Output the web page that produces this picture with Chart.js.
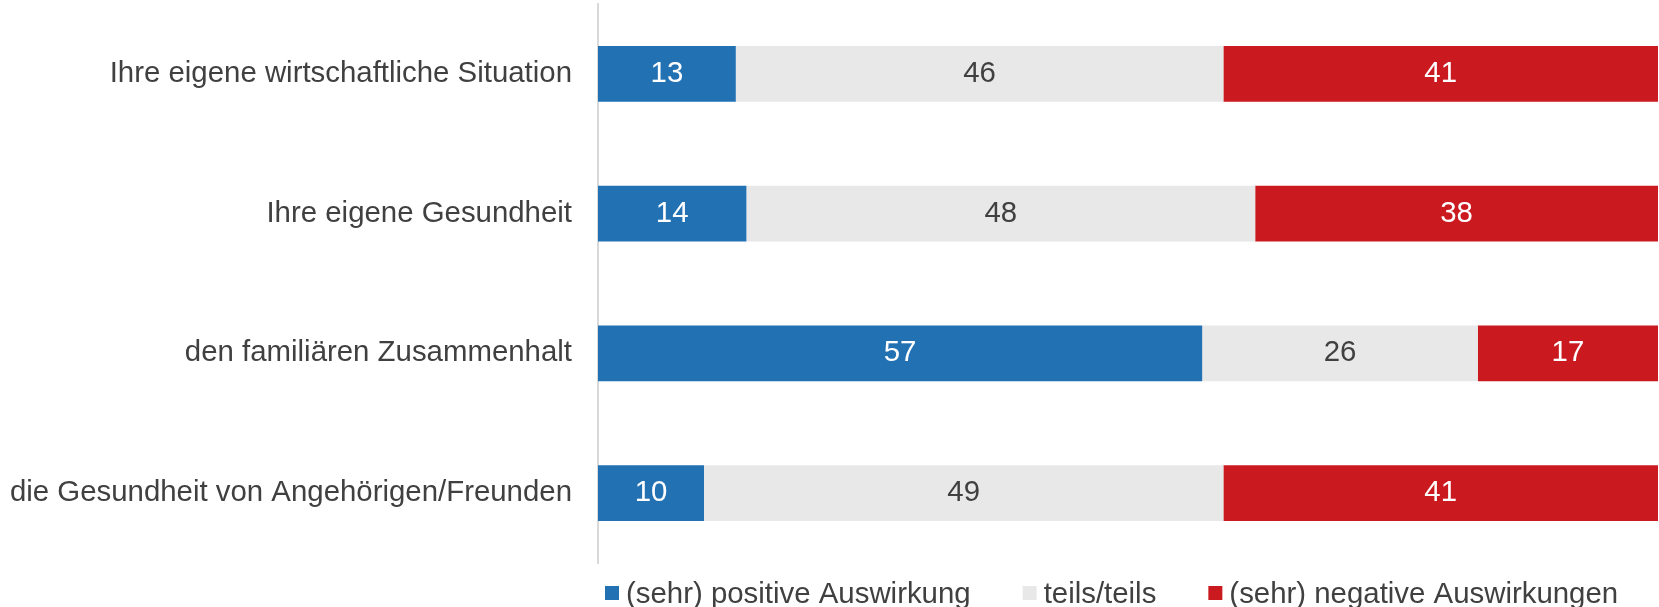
<!DOCTYPE html>
<html>
<head>
<meta charset="utf-8">
<script src="https://cdn.jsdelivr.net/npm/chart.js@4/dist/chart.umd.min.js"></script>
<style>
html, body { margin: 0; padding: 0; background: #fff; }
canvas { display: block; }
</style>
</head>
<body>
<canvas id="chart" width="1659" height="607"></canvas>
<script>
const categories =
[
    "Ihre eigene wirtschaftliche Situation",
    "Ihre eigene Gesundheit",
    "den familiären Zusammenhalt",
    "die Gesundheit von Angehörigen/Freunden"
];

const positiveValues = [13, 14, 57, 10];
const neutralValues = [46, 48, 26, 49];
const negativeValues = [41, 38, 17, 41];

const seriesNames =
[
    "(sehr) positive Auswirkung",
    "teils/teils",
    "(sehr) negative Auswirkungen"
];

const seriesColors = ["#2271b3", "#e8e8e8", "#cb1a1f"];
const labelColors = ["#ffffff", "#404040", "#ffffff"];

const TEXT_COLOR = "#404040";
const FONT_FAMILY = "\"Liberation Sans\", Arial, sans-serif";
const FONT_SIZE = 29.4;

function createDataset(label, values, index)
{
    return {
        label: label,
        data: values,
        backgroundColor: seriesColors[index],
        borderWidth: 0,
        barPercentage: 0.4,
        categoryPercentage: 1.0
    };
}

// value in the middle of each bar segment
const valueLabels =
{
    id: "valueLabels",
    afterDatasetsDraw(chart)
    {
        const ctx = chart.ctx;

        ctx.save();
        ctx.font = FONT_SIZE + "px " + FONT_FAMILY;
        ctx.textAlign = "center";
        ctx.textBaseline = "middle";

        chart.data.datasets.forEach((dataset, di) =>
        {
            const meta = chart.getDatasetMeta(di);

            meta.data.forEach((bar, i) =>
            {
                const props = bar.getProps(["x", "y", "base"], true);
                ctx.fillStyle = labelColors[di];
                ctx.fillText(String(dataset.data[i]), (props.x + props.base) / 2, props.y);
            });
        });

        ctx.restore();
    }
};

// legend below the plot, starting at the axis
const bottomLegend =
{
    id: "bottomLegend",
    afterDraw(chart)
    {
        const ctx = chart.ctx;
        const boxSize = 14;
        const centerY = chart.height - 14;
        let x = chart.chartArea.left + 7;

        ctx.save();
        ctx.font = FONT_SIZE + "px " + FONT_FAMILY;
        ctx.textAlign = "left";
        ctx.textBaseline = "alphabetic";

        seriesNames.forEach((name, i) =>
        {
            ctx.fillStyle = seriesColors[i];
            ctx.fillRect(x, centerY - boxSize / 2, boxSize, boxSize);
            x += boxSize + 7;

            ctx.fillStyle = TEXT_COLOR;
            ctx.fillText(name, x, centerY + 10);
            x += ctx.measureText(name).width + 52;
        });

        ctx.restore();
    }
};

new Chart(document.getElementById("chart").getContext("2d"),
{
    type: "bar",
    data:
    {
        labels: categories,
        datasets:
        [
            createDataset(seriesNames[0], positiveValues, 0),
            createDataset(seriesNames[1], neutralValues, 1),
            createDataset(seriesNames[2], negativeValues, 2)
        ]
    },
    options:
    {
        indexAxis: "y",
        responsive: false,
        animation: false,
        layout:
        {
            padding:
            {
                top: 4,
                bottom: 44,
                left: 0,
                right: 1
            }
        },
        plugins:
        {
            legend: { display: false },
            tooltip: { enabled: false }
        },
        scales:
        {
            x:
            {
                display: false,
                stacked: true,
                min: 0,
                max: 100
            },
            y:
            {
                stacked: true,
                afterFit(scale)
                {
                    scale.width = 598;
                    scale.paddingTop = 0;
                    scale.paddingBottom = 0;
                },
                grid:
                {
                    display: false,
                    drawTicks: false
                },
                border:
                {
                    display: true,
                    color: "#d9d9d9",
                    width: 2
                },
                ticks:
                {
                    padding: 26,
                    color: TEXT_COLOR,
                    font:
                    {
                        family: FONT_FAMILY,
                        size: FONT_SIZE
                    }
                }
            }
        }
    },
    plugins: [valueLabels, bottomLegend]
});
</script>
</body>
</html>
